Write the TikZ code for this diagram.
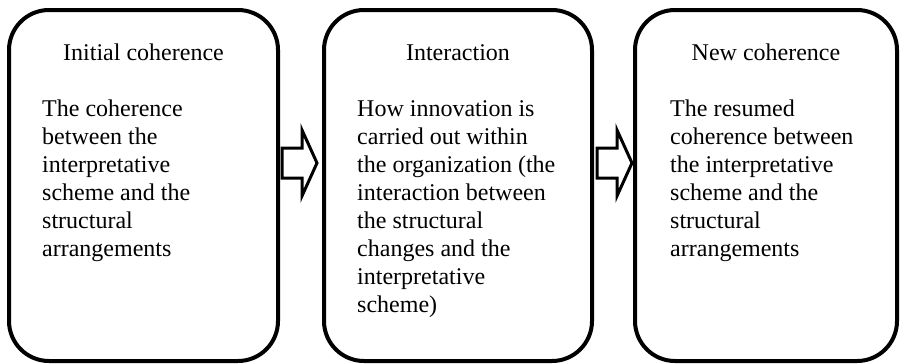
\documentclass[tikz,border=0pt]{standalone}
\usepackage{fontspec}
\setmainfont{Liberation Serif}
\tikzset{
  box/.style={draw=black, line width=4pt, rounded corners=40pt, fill=white, inner sep=0pt},
  titletext/.style={anchor=base, inner sep=0pt, font=\fontsize{24}{28}\selectfont},
  bodytext/.style={anchor=north west, inner sep=0pt, align=left, font=\fontsize{24}{28}\selectfont},
  arrowline/.style={draw=black, line width=3pt, fill=white, line join=miter}
}
\newcommand{\firstline}{\rule{0pt}{20pt}}
\begin{document}
\begin{tikzpicture}[x=1pt,y=-1pt]
\useasboundingbox (0,0) rectangle (900,364);
% boxes
\node[box, minimum width=269pt, minimum height=351pt] (b1) at (143.5,185.5) {};
\node[box, minimum width=268pt, minimum height=351pt] (b2) at (458,185.5) {};
\node[box, minimum width=262pt, minimum height=351pt] (b3) at (766,185.5) {};
% titles
\node[titletext] (t1) at (143.5,60) {Initial coherence};
\node[titletext] (t2) at (458,60) {Interaction};
\node[titletext] (t3) at (766,60) {New coherence};
% bodies
\node[bodytext] (d1) at (42,96) {\firstline The coherence\\between the\\interpretative\\scheme and the\\structural\\arrangements};
\node[bodytext] (d2) at (357,96) {\firstline How innovation is\\carried out within\\the organization (the\\interaction between\\the structural\\changes and the\\interpretative\\scheme)};
\node[bodytext] (d3) at (670,96) {\firstline The resumed\\coherence between\\the interpretative\\scheme and the\\structural\\arrangements};
% block arrows
\coordinate (a1) at (282,163);
\coordinate (a2) at (597,163);
\draw[arrowline] (a1) ++(0,-15) -- ++(20,0) -- ++(0,-18) -- ++(15,33) -- ++(-15,33) -- ++(0,-18) -- ++(-20,0) -- cycle;
\draw[arrowline] (a2) ++(0,-15) -- ++(20,0) -- ++(0,-18) -- ++(15,33) -- ++(-15,33) -- ++(0,-18) -- ++(-20,0) -- cycle;
\end{tikzpicture}
\end{document}
